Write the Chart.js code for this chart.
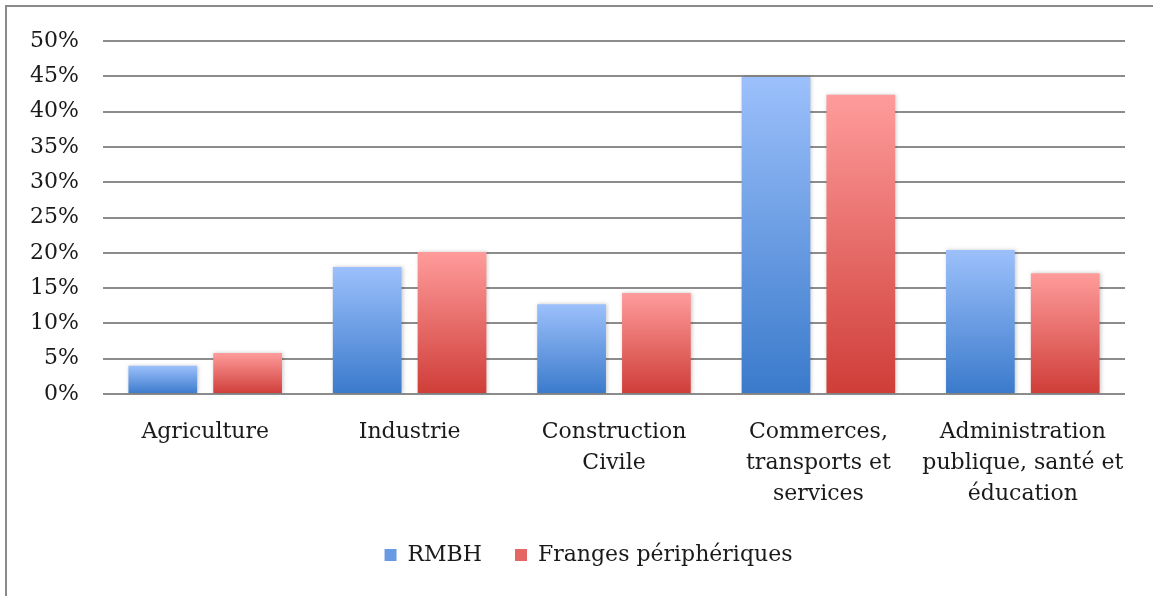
<!DOCTYPE html>
<html>
<head>
<meta charset="utf-8">
<script src="https://cdn.jsdelivr.net/npm/chart.js@4"></script>
<style>
  html, body { margin: 0; padding: 0; background: #fff; overflow: hidden; }
  #frame { position: absolute; left: 5px; top: 5px; width: 1200px; height: 650px;
           border-left: 2px solid #8a8a8a; border-top: 2px solid #8a8a8a; }
  #wrap { position: absolute; left: 0; top: 0; width: 1153px; height: 596px; }
</style>
</head>
<body>
<div id="frame"></div>
<div id="wrap"><canvas id="chart"></canvas></div>
<script>
const categories = [
    "Agriculture",
    "Industrie",
    ["Construction", "Civile"],
    ["Commerces,", "transports et", "services"],
    ["Administration", "publique, santé et", "éducation"]
];
const seriesNames = ["RMBH", "Franges périphériques"];
const rmbh = [4.0, 18.0, 12.7, 44.9, 20.4];
const franges = [5.8, 20.1, 14.3, 42.4, 17.1];

window.addEventListener("load", ()=>{
    function barGradient(top, bottom){
        return function(ctx){
            let chart = ctx.chart;
            if(!chart.chartArea || ctx.type !== "data") return bottom;
            let y = chart.scales.y;
            let y0 = y.getPixelForValue(ctx.raw);
            let y1 = y.getPixelForValue(0);
            let g = chart.ctx.createLinearGradient(0, y0, 0, y1);
            g.addColorStop(0, top);
            g.addColorStop(1, bottom);
            return g;
        };
    }

    // soft drop shadow under the bars
    let shadow = {
        id: "shadow",
        beforeDatasetsDraw(chart){
            let c = chart.ctx;
            c.save();
            c.shadowColor = "rgba(0,0,0,0.22)";
            c.shadowBlur = 4;
            c.shadowOffsetX = 1;
            c.shadowOffsetY = 0;
        },
        afterDatasetsDraw(chart){
            chart.ctx.restore();
        }
    };

    // legend sits a bit right of the canvas centre in the original
    let nudgeLegend = {
        id: "nudgeLegend",
        afterLayout(chart){
            chart.legend.left += 26;
            chart.legend.right += 26;
        }
    };

    let font = "'DejaVu Serif', serif";

    new Chart(document.getElementById("chart"), {
        type: "bar",
        data: {
            labels: categories,
            datasets: [{
                label: seriesNames[0],
                data: rmbh,
                backgroundColor: barGradient("#9cc0fb", "#3a7acb"),
                categoryPercentage: 0.83,
                barPercentage: 0.81
            }, {
                label: seriesNames[1],
                data: franges,
                backgroundColor: barGradient("#fe9c9b", "#cf3d38"),
                categoryPercentage: 0.83,
                barPercentage: 0.81
            }]
        },
        plugins: [shadow, nudgeLegend],
        options: {
            responsive: true,
            maintainAspectRatio: false,
            animation: false,
            layout: { padding: { left: 0, right: 28, top: 41, bottom: 20 } },
            scales: {
                x: {
                    afterFit(scale){ scale.height = 117; },
                    grid: { display: false, drawTicks: false },
                    border: { display: false },
                    ticks: {
                        color: "#1a1a1a",
                        padding: 23,
                        maxRotation: 0,
                        autoSkip: false,
                        font: { family: font, size: 22, lineHeight: 1.41 }
                    }
                },
                y: {
                    min: 0,
                    max: 50,
                    afterFit(scale){ scale.width = 103; },
                    grid: { color: "#8c8c8c", lineWidth: 2, drawTicks: false },
                    border: { display: false },
                    ticks: {
                        stepSize: 5,
                        color: "#1a1a1a",
                        padding: 24,
                        font: { family: font, size: 22 },
                        callback: (v)=>v + "%"
                    }
                }
            },
            plugins: {
                legend: {
                    position: "bottom",
                    labels: {
                        color: "#1a1a1a",
                        boxWidth: 12,
                        boxHeight: 12,
                        padding: 33,
                        font: { family: font, size: 22 },
                        generateLabels(chart){
                            let fills = ["#6a9be2", "#e46764"];
                            return chart.data.datasets.map((d, i)=>({
                                text: d.label,
                                fillStyle: fills[i],
                                strokeStyle: fills[i],
                                lineWidth: 0,
                                fontColor: "#1a1a1a",
                                datasetIndex: i
                            }));
                        }
                    }
                },
                tooltip: { enabled: false }
            }
        }
    });
});
</script>
</body>
</html>
